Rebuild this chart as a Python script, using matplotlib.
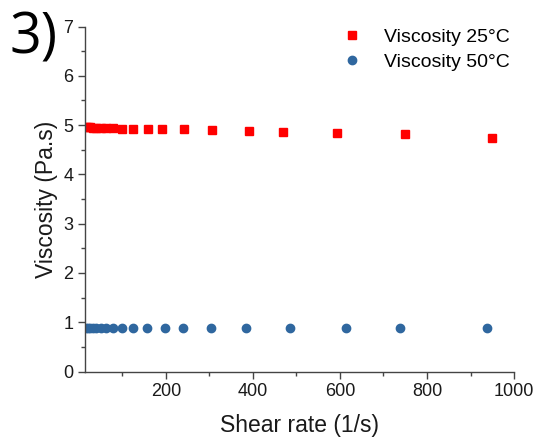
import matplotlib.pyplot as plt
from matplotlib.ticker import MultipleLocator

plt.rcParams['font.family'] = ['Liberation Sans', 'DejaVu Sans']

# shear rate (1/s) and viscosity (Pa.s)
rate_25 = [15.8, 20, 25, 31.6, 40, 50, 63, 79, 99, 125, 159, 191, 241, 306, 390, 468, 592, 750, 949]
visc_25 = [4.97, 4.96, 4.96, 4.95, 4.95, 4.95, 4.94, 4.94, 4.93, 4.93, 4.92, 4.92, 4.92, 4.91,
           4.89, 4.87, 4.85, 4.81, 4.73]
rate_50 = [15.8, 20, 25, 31.6, 40, 50, 63, 79, 98, 124, 157, 198, 240, 303, 383, 484, 614, 738, 937]
visc_50 = [0.88, 0.88, 0.88, 0.88, 0.88, 0.88, 0.88, 0.88, 0.88, 0.88, 0.88, 0.88, 0.88, 0.88,
           0.88, 0.88, 0.88, 0.88, 0.88]

fig = plt.figure(figsize=(5.36, 4.37), dpi=100)
ax = fig.add_axes([0.1586, 0.1497, 0.8004, 0.7896])

ax.plot(rate_25, visc_25, 's', color='#ff0000', markersize=6, label='Viscosity 25°C')
ax.plot(rate_50, visc_50, 'o', color='#2f679f', markersize=6, label='Viscosity 50°C')

ax.set_xlim(14, 1000)
ax.set_ylim(0, 7)
ax.xaxis.set_major_locator(MultipleLocator(200))
ax.xaxis.set_minor_locator(MultipleLocator(100))
ax.yaxis.set_major_locator(MultipleLocator(1))
ax.yaxis.set_minor_locator(MultipleLocator(0.5))

for s in ['top', 'right']:
    ax.spines[s].set_visible(False)
for s in ['left', 'bottom']:
    ax.spines[s].set_color('#444444')
    ax.spines[s].set_linewidth(1.0)

ax.tick_params(which='major', direction='out', length=5, width=1, color='#444444',
               labelsize=13, labelcolor='#1a1a1a')
ax.tick_params(which='minor', direction='out', length=3, width=1, color='#444444')

ax.set_xlabel('Shear rate (1/s)', fontsize=16.5, color='#1a1a1a', labelpad=10)
ax.set_ylabel('Viscosity (Pa.s)', fontsize=16.5, color='#1a1a1a', labelpad=4)

ax.legend(loc='upper right', bbox_to_anchor=(527 / 536, 1 - 11 / 437),
          bbox_transform=fig.transFigure, frameon=False, fontsize=14,
          handletextpad=0.9, labelspacing=0.35, handlelength=1.5)

fig.text(9 / 536, 1 - 53 / 437, '3)', fontsize=40, va='baseline', ha='left',
         color='black', family='Open Sans')

fig.savefig('out.png', dpi=100)
